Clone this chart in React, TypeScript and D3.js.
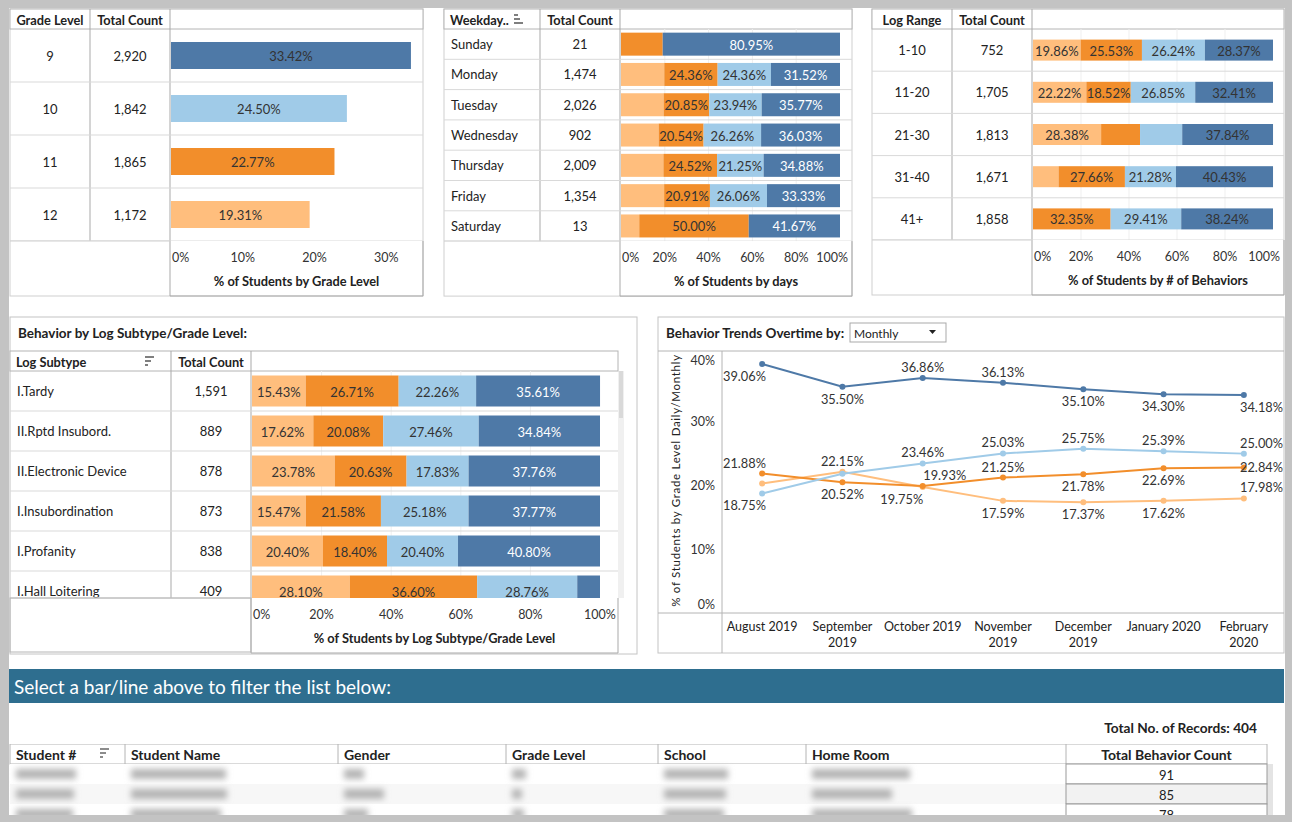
import React from 'react';
import * as d3 from 'd3';

const FONT = 'Lato, "Open Sans", "DejaVu Sans", sans-serif';
const INK = '#333333';
const LIGHT_ORANGE = '#ffbe7d';
const ORANGE = '#f28e2b';
const LIGHT_BLUE = '#a0cbe8';
const DARK_BLUE = '#4e79a7';
// every 100% bar stacks grade 12, 11, 10, 9 from the left
const GRADE_COLORS = [LIGHT_ORANGE, ORANGE, LIGHT_BLUE, DARK_BLUE];

// % of students by grade level
const gradeLevels = ['9', '10', '11', '12'];
const gradeCounts = ['2,920', '1,842', '1,865', '1,172'];
const gradeShares = [33.42, 24.5, 22.77, 19.31];
const gradeBarColors = [DARK_BLUE, LIGHT_BLUE, ORANGE, LIGHT_ORANGE];
const gradeTicks = [0, 10, 20, 30];

// % of students by days
const weekdays = ['Sunday', 'Monday', 'Tuesday', 'Wednesday', 'Thursday', 'Friday', 'Saturday'];
const weekdayCounts = ['21', '1,474', '2,026', '902', '2,009', '1,354', '13'];
const weekdayG12 = [0, 19.76, 19.44, 17.17, 19.35, 19.7, 8.33];
const weekdayG11 = [19.05, 24.36, 20.85, 20.54, 24.52, 20.91, 50.0];
const weekdayG10 = [0, 24.36, 23.94, 26.26, 21.25, 26.06, 0];
const weekdayG9 = [80.95, 31.52, 35.77, 36.03, 34.88, 33.33, 41.67];

// % of students by # of behaviors
const logRanges = ['1-10', '11-20', '21-30', '31-40', '41+'];
const logRangeCounts = ['752', '1,705', '1,813', '1,671', '1,858'];
const logRangeG12 = [19.86, 22.22, 28.38, 10.64, 0];
const logRangeG11 = [25.53, 18.52, 16.22, 27.66, 32.35];
const logRangeG10 = [26.24, 26.85, 17.57, 21.28, 29.41];
const logRangeG9 = [28.37, 32.41, 37.84, 40.43, 38.24];

// % of students by log subtype / grade level
const subtypes = ['I.Tardy', 'II.Rptd Insubord.', 'II.Electronic Device', 'I.Insubordination', 'I.Profanity', 'I.Hall Loitering'];
const subtypeCounts = ['1,591', '889', '878', '873', '838', '409'];
const subtypeG12 = [15.43, 17.62, 23.78, 15.47, 20.4, 28.1];
const subtypeG11 = [26.71, 20.08, 20.63, 21.58, 18.4, 36.6];
const subtypeG10 = [22.26, 27.46, 17.83, 25.18, 20.4, 28.76];
const subtypeG9 = [35.61, 34.84, 37.76, 37.77, 40.8, 6.54];

const pctTicks = [0, 20, 40, 60, 80, 100];

// behavior trends, monthly
const months = ['August 2019', 'September 2019', 'October 2019', 'November 2019', 'December 2019', 'January 2020', 'February 2020'];
const monthLabelLines = [['August 2019'], ['September', '2019'], ['October 2019'], ['November', '2019'], ['December', '2019'], ['January 2020'], ['February', '2020']];
const trendG9 = [39.06, 35.5, 36.86, 36.13, 35.1, 34.3, 34.18];
const trendG10 = [18.75, 21.83, 23.46, 25.03, 25.75, 25.39, 25.0];
const trendG11 = [21.88, 20.52, 19.93, 21.25, 21.78, 22.69, 22.84];
const trendG12 = [20.31, 22.15, 19.75, 17.59, 17.37, 17.62, 17.98];
// a = above, b = below, m = beside, n = hidden, ar / bl = shifted
const trendLabelG9 = ['b', 'b', 'a', 'a', 'b', 'b', 'b'];
const trendLabelG10 = ['b', 'n', 'a', 'a', 'a', 'a', 'a'];
const trendLabelG11 = ['a', 'b', 'ar', 'a', 'b', 'b', 'm'];
const trendLabelG12 = ['n', 'a', 'bl', 'b', 'b', 'b', 'a'];
const trendTicks = [0, 10, 20, 30, 40];

// student list
const listHeaders = ['Student #', 'Student Name', 'Gender', 'Grade Level', 'School', 'Home Room', 'Total Behavior Count'];
const behaviorCounts = ['91', '85', '78'];
const recordTotal = 404;

const stackRows = (g12, g11, g10, g9) =>
  g12.map((_, i) => [g12[i], g11[i], g10[i], g9[i]].map((v, k) => ({ v, c: GRADE_COLORS[k] })));

function BarTable(p) {
  const hdrH = 20;
  const c1 = p.left + p.colW[0];
  const c2 = c1 + p.colW[1];
  const tTop = p.top + hdrH;
  const tBottom = p.clipBottom ?? tTop + p.labels.length * p.rowH;
  const axisBottom = tBottom + 55;
  const x = d3.scaleLinear().domain([0, p.domainMax]).range([c2 + 1, p.rangeEnd]);
  const clipId = 'clip' + p.id;
  const fmt = (v) => v.toFixed(2) + '%';

  return (
    <g fontFamily={FONT}>
      <defs>
        <clipPath id={clipId}>
          <rect x={p.left} y={tTop} width={p.right - p.left} height={tBottom - tTop} />
        </clipPath>
      </defs>
      {p.outline && (
        <rect x={p.left} y={p.top} width={p.right - p.left} height={axisBottom - p.top} fill="none" stroke="#cfcfcf" />
      )}
      {/* header */}
      <rect x={p.left} y={p.top} width={p.right - p.left} height={hdrH} fill="#fff" stroke="#b4b4b4" />
      <line x1={c1} x2={c1} y1={p.top} y2={tBottom} stroke="#a9a9a9" />
      <line x1={c2} x2={c2} y1={p.top} y2={axisBottom} stroke="#a9a9a9" />
      <text x={p.headerLeft ? p.left + 6 : (p.left + c1) / 2} y={p.top + 10.5} dominantBaseline="central"
        textAnchor={p.headerLeft ? 'start' : 'middle'} fontSize={12.8} fontWeight="bold" fill="#222">{p.headers[0]}</text>
      <text x={(c1 + c2) / 2} y={p.top + 10.5} dominantBaseline="central" textAnchor="middle"
        fontSize={12.8} fontWeight="bold" fill="#222">{p.headers[1]}</text>
      {p.icon && (
        <g stroke="#555" strokeWidth={1.5}>
          {(p.icon.dir === 'up' ? [4, 6, 9] : [9, 6, 3]).map((w, k) => (
            <line key={k} x1={p.icon.x} x2={p.icon.x + w} y1={p.top + 6 + k * 4} y2={p.top + 6 + k * 4} />
          ))}
        </g>
      )}
      {/* grid */}
      {p.grid && pctTicks.slice(1, -1).map((t) => (
        <line key={t} x1={x(t)} x2={x(t)} y1={tTop} y2={tBottom} stroke="#efefef" />
      ))}
      <g clipPath={`url(#${clipId})`}>
        {p.labels.map((lab, i) => {
          const y0 = tTop + i * p.rowH;
          const cy = y0 + p.rowH / 2;
          const ends = d3.cumsum(p.rows[i].map((s) => s.v));
          return (
            <g key={lab}>
              <line x1={p.left} x2={p.right} y1={y0 + p.rowH} y2={y0 + p.rowH} stroke="#d9d9d9" />
              <text x={p.labelLeft ? p.left + 7 : (p.left + c1) / 2} y={cy} dominantBaseline="central"
                textAnchor={p.labelLeft ? 'start' : 'middle'} fontSize={13} fill="#222">{lab}</text>
              <text x={(c1 + c2) / 2} y={cy} dominantBaseline="central" textAnchor="middle" fontSize={13} fill="#222">
                {p.counts[i]}
              </text>
              {p.rows[i].map((s, k) => {
                const xa = x(ends[k] - s.v);
                const w = x(ends[k]) - xa;
                if (s.v <= 0) return null;
                const white = p.whiteOnDark && s.c === DARK_BLUE;
                return (
                  <g key={k}>
                    <rect x={xa} y={cy - p.barH / 2} width={w} height={p.barH} fill={s.c} />
                    {(w >= 44 || p.alwaysLabel) && (
                      <text x={xa + w / 2} y={cy + 0.5} dominantBaseline="central" textAnchor="middle" fontSize={13}
                        fill={white ? '#fff' : INK}>{fmt(s.v)}</text>
                    )}
                  </g>
                );
              })}
            </g>
          );
        })}
      </g>
      {/* axis */}
      <line x1={c2} x2={p.right} y1={axisBottom} y2={axisBottom} stroke="#a9a9a9" />
      <line x1={p.right} x2={p.right} y1={tBottom} y2={axisBottom} stroke="#a9a9a9" />
      <line x1={p.left} x2={c2} y1={tBottom} y2={tBottom} stroke="#d0d0d0" />
      {p.ticks.map((t, k) => {
        let anchor = 'middle';
        let tx = x(t);
        if (k === 0) { anchor = 'start'; tx = x(t) + 1; }
        else if (tx + 15 > p.right) { anchor = 'end'; tx = p.right - 4; }
        return (
          <text key={t} x={tx} y={tBottom + 16} dominantBaseline="central" textAnchor={anchor} fontSize={12.5} fill={INK}>
            {t + '%'}
          </text>
        );
      })}
      <text x={(c2 + p.right) / 2} y={tBottom + 40} dominantBaseline="central" textAnchor="middle" fontSize={12.8}
        fontWeight="bold" fill="#222">{p.title}</text>
    </g>
  );
}

function TrendChart() {
  const plotL = 722, plotR = 1284, plotT = 351, plotB = 613;
  const x = d3.scalePoint().domain(months).range([plotL, plotR]).padding(0.5);
  const y = d3.scaleLinear().domain([0, 40]).range([plotB, 358]);
  const series = [
    { v: trendG12, pos: trendLabelG12, c: LIGHT_ORANGE },
    { v: trendG11, pos: trendLabelG11, c: ORANGE },
    { v: trendG10, pos: trendLabelG10, c: LIGHT_BLUE },
    { v: trendG9, pos: trendLabelG9, c: DARK_BLUE },
  ];
  const line = d3.line().x((d, i) => x(months[i])).y((d) => y(d));
  const last = months.length - 1;

  return (
    <g fontFamily={FONT}>
      <rect x={658} y={317} width={626} height={336} fill="#fff" stroke="#c4c4c4" />
      <text x={666} y={333} dominantBaseline="central" fontSize={13.5} fontWeight="bold" fill="#222">
        Behavior Trends Overtime by:
      </text>
      <rect x={850} y={323} width={96} height={19} fill="#fff" stroke="#a9a9a9" />
      <text x={854} y={333} dominantBaseline="central" fontSize={12} fill="#222">Monthly</text>
      <path d="M929,330 L936,330 L932.5,334 Z" fill="#222" />
      <line x1={658} x2={plotR} y1={plotT} y2={plotT} stroke="#b4b4b4" />
      <line x1={658} x2={plotR} y1={plotB} y2={plotB} stroke="#b4b4b4" />
      <line x1={plotL} x2={plotL} y1={plotT} y2={653} stroke="#b4b4b4" />
      {trendTicks.map((t) => {
        let ty = y(t);
        if (t === 0) ty -= 9;
        if (t === 40) ty += 2;
        return (
          <text key={t} x={715} y={ty} dominantBaseline="central" textAnchor="end" fontSize={12.5} fill={INK}>{t}%</text>
        );
      })}
      <text transform={`translate(675,${(358 + 603) / 2}) rotate(-90)`} textAnchor="middle" dominantBaseline="central"
        fontSize={11.5} letterSpacing={0.7} fill="#222">% of Students by Grade Level Daily/Monthly</text>
      {monthLabelLines.map((lines, i) => lines.map((s, k) => (
        <text key={i + '-' + k} x={x(months[i])} y={626 + k * 16} dominantBaseline="central" textAnchor="middle"
          fontSize={12.5} fill="#222">{s}</text>
      )))}
      {series.map((s, si) => (
        <g key={si}>
          <path d={line(s.v)} fill="none" stroke={s.c} strokeWidth={2} />
          {s.v.map((v, i) => <circle key={i} cx={x(months[i])} cy={y(v)} r={3} fill={s.c} />)}
        </g>
      ))}
      {series.map((s, si) => s.v.map((v, i) => {
        const pos = s.pos[i];
        if (pos === 'n') return null;
        let dy = 0;
        if (pos[0] === 'a') dy = -11;
        if (pos[0] === 'b') dy = 12;
        let dx = 0;
        if (pos === 'ar') dx = 22;
        if (pos === 'bl') dx = -21;
        let anchor = 'middle';
        let tx = x(months[i]) + dx;
        if (i === 0) { anchor = 'start'; tx = plotL + 1; }
        if (i === last) { anchor = 'end'; tx = plotR - 1; }
        return (
          <text key={si + '-' + i} x={tx} y={y(v) + dy} dominantBaseline="central" textAnchor={anchor}
            fontSize={12.8} fill={INK}>{v.toFixed(2)}%</text>
        );
      }))}
    </g>
  );
}

function StudentList() {
  const cols = [10, 125, 338, 506, 658, 806, 1066, 1267];
  const hTop = 744, rowH = 20;
  // placeholder widths of the blurred (hidden) student fields
  const blurWidths = [[60, 95, 20, 14, 64, 98], [58, 96, 40, 10, 62, 80], [57, 90, 24, 12, 60, 100]];
  return (
    <g fontFamily={FONT}>
      <defs>
        <filter id="blurry" x="-20%" y="-100%" width="140%" height="300%">
          <feGaussianBlur stdDeviation="3.2" />
        </filter>
        <clipPath id="listClip"><rect x={9} y={hTop} width={1276} height={815 - hTop} /></clipPath>
      </defs>
      <rect x={9} y={669} width={1275} height={34} fill="#2e6e8f" />
      <text x={14} y={686.5} dominantBaseline="central" fontSize={19} fill="#fff">
        Select a bar/line above to filter the list below:
      </text>
      <text x={1257} y={727} dominantBaseline="central" textAnchor="end" fontSize={13.7} fontWeight="bold" fill="#222">
        Total No. of Records: {recordTotal}
      </text>
      <g clipPath="url(#listClip)">
        <rect x={cols[0]} y={hTop} width={cols[7] - cols[0]} height={rowH} fill="#fff" stroke="#b4b4b4" />
        {cols.slice(1, -1).map((c) => (
          <line key={c} x1={c} x2={c} y1={hTop} y2={hTop + rowH} stroke="#b4b4b4" />
        ))}
        {listHeaders.map((h, k) => (
          <text key={h} x={k === 6 ? (cols[6] + cols[7]) / 2 : cols[k] + 6} y={hTop + 10.5} dominantBaseline="central"
            textAnchor={k === 6 ? 'middle' : 'start'} fontSize={14} fontWeight="bold" fill="#222">{h}</text>
        ))}
        <g stroke="#666" strokeWidth={1.5}>
          {[9, 6, 3].map((w, k) => <line key={k} x1={100} x2={100 + w} y1={749 + k * 4} y2={749 + k * 4} />)}
        </g>
        <rect x={1267} y={hTop + rowH} width={6} height={60} fill="#e4e4e4" />
        {behaviorCounts.map((n, r) => {
          const ry = hTop + rowH + r * rowH;
          return (
            <g key={r}>
              <rect x={cols[0]} y={ry} width={cols[6] - cols[0]} height={rowH} fill={r === 1 ? '#f7f7f7' : '#fff'} />
              <g filter="url(#blurry)">
                {blurWidths[r].map((w, k) => (
                  <rect key={k} x={cols[k] + 6} y={ry + 5} width={w} height={10} fill="#b4b4b4" />
                ))}
              </g>
              <rect x={cols[6]} y={ry} width={cols[7] - cols[6]} height={rowH} fill={r === 1 ? '#f2f2f2' : '#fff'}
                stroke="#9a9a9a" />
              <text x={(cols[6] + cols[7]) / 2} y={ry + 10.5} dominantBaseline="central" textAnchor="middle"
                fontSize={13} fill="#222">{n}</text>
            </g>
          );
        })}
      </g>
    </g>
  );
}

export default function App() {
  const gradeRows = gradeShares.map((v, i) => [{ v, c: gradeBarColors[i] }]);
  return (
    <svg width={1292} height={822} style={{ position: 'absolute', left: 0, top: 0, display: 'block' }}>
      <rect width={1292} height={822} fill="#c3c3c3" />
      <rect x={9} y={8} width={1276} height={807} fill="#fff" />

      <BarTable id="grade" outline left={10} top={9} right={423} colW={[80, 80]} rowH={53} barH={27}
        rangeEnd={423} domainMax={35.1} headers={['Grade Level', 'Total Count']} labels={gradeLevels}
        counts={gradeCounts} rows={gradeRows} ticks={gradeTicks} title="% of Students by Grade Level" alwaysLabel />

      <BarTable id="day" outline left={444} top={9} right={852} colW={[96, 80]} rowH={30.3} barH={23}
        rangeEnd={840} domainMax={100} headers={['Weekday..', 'Total Count']} headerLeft labelLeft
        icon={{ x: 514, dir: 'up' }} labels={weekdays} counts={weekdayCounts}
        rows={stackRows(weekdayG12, weekdayG11, weekdayG10, weekdayG9)} ticks={pctTicks}
        title="% of Students by days" whiteOnDark grid />

      <BarTable id="range" outline left={872} top={9} right={1284} colW={[80, 80]} rowH={42.2} barH={21}
        rangeEnd={1273} domainMax={100} headers={['Log Range', 'Total Count']} labels={logRanges}
        counts={logRangeCounts} rows={stackRows(logRangeG12, logRangeG11, logRangeG10, logRangeG9)}
        ticks={pctTicks} title="% of Students by # of Behaviors" grid />

      <rect x={10} y={317} width={627} height={337} fill="#fff" stroke="#c4c4c4" />
      <text x={18} y={333} dominantBaseline="central" fontFamily={FONT} fontSize={13.5} fontWeight="bold" fill="#222">
        Behavior by Log Subtype/Grade Level:
      </text>
      <rect x={618} y={371} width={6} height={227} fill="#f0f0f0" />
      <rect x={619} y={371} width={4} height={47} fill="#d9d9d9" />
      <BarTable id="sub" left={10} top={351} right={618} colW={[161, 80]} rowH={40} barH={31} clipBottom={598}
        rangeEnd={600} domainMax={100} headers={['Log Subtype', 'Total Count']} headerLeft labelLeft
        icon={{ x: 145, dir: 'down' }} labels={subtypes} counts={subtypeCounts}
        rows={stackRows(subtypeG12, subtypeG11, subtypeG10, subtypeG9)} ticks={pctTicks}
        title="% of Students by Log Subtype/Grade Level" whiteOnDark grid />
      <rect x={10} y={598} width={241} height={54} fill="none" stroke="#b4b4b4" />

      <TrendChart />
      <StudentList />
    </svg>
  );
}
